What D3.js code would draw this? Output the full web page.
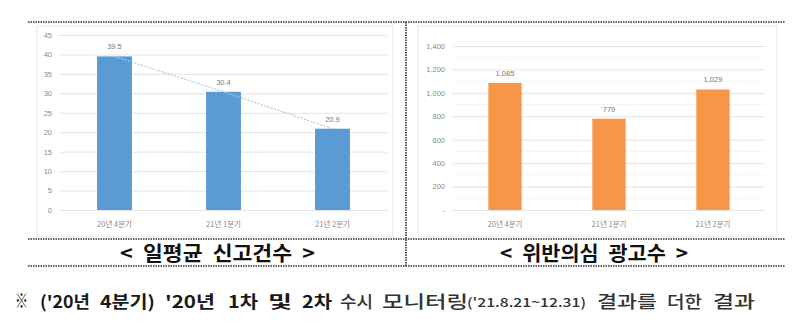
<!DOCTYPE html>
<html><head><meta charset="utf-8">
<script src="https://cdn.jsdelivr.net/npm/d3@7"></script>
<style>body{margin:0;background:#fff;}svg{display:block;}</style>
</head><body>
<svg id="c" width="800" height="324"></svg>
<script>
const categories = ["20년 4분기", "21년 1분기", "21년 2분기"];
const dailyReports = [39.5, 30.4, 20.9];
const dailyTicks = [0, 5, 10, 15, 20, 25, 30, 35, 40, 45];
const suspectAds = [1085, 779, 1029];
const adTicks = [0, 200, 400, 600, 800, 1000, 1200, 1400];
const leftTitle = "< 일평균 신고건수 >";
const rightTitle = "< 위반의심 광고수 >";
const noteWords = ["※", "('20년", "4분기)", "'20년", "1차", "및", "2차", "수시", "모니터링", "('21.8.21~12.31)", "결과를", "더한", "결과"];

const svg = d3.select("#c");
const KR = "'Noto Sans CJK KR','Noto Sans',sans-serif";

// frame dotted lines
function dl(x1,y1,x2,y2){ svg.append("line").attr("x1",x1).attr("y1",y1).attr("x2",x2).attr("y2",y2)
  .attr("stroke","#333").attr("stroke-width",1.6).attr("stroke-dasharray","1.5,1"); }
dl(28,22,785,22); dl(28,239,785,239); dl(28,266,785,266); dl(406,22,406,266);

// inner boxes
svg.append("rect").attr("x",37).attr("y",26).attr("width",356).attr("height",210).attr("fill","none").attr("stroke","#e6e6e6");
svg.append("rect").attr("x",418).attr("y",26).attr("width",359).attr("height",210).attr("fill","none").attr("stroke","#e6e6e6");

function chart(opts){
  const x = d3.scaleBand().domain(categories).range([opts.x0, opts.x1]).paddingInner(0.68).paddingOuter(0.34);
  const y = d3.scaleLinear().domain([0, opts.max]).range([210, opts.yTop]);
  const g = svg.append("g");
  if (opts.minor) {
    g.append("g").selectAll("line").data(opts.minor).join("line")
      .attr("x1",opts.x0).attr("x2",opts.x1).attr("y1",d=>y(d)).attr("y2",d=>y(d))
      .attr("stroke","#f2f2f2").attr("stroke-width",0.8);
  }
  const ax = d3.axisLeft(y).tickValues(opts.ticks).tickSize(-(opts.x1-opts.x0)).tickPadding(opts.pad).tickFormat(opts.fmt);
  const ag = g.append("g").attr("transform",`translate(${opts.x0},0)`).call(ax);
  ag.select(".domain").remove();
  ag.selectAll(".tick line").attr("stroke","#e3e3e3");
  ag.selectAll(".tick text").attr("fill","#8a8a8a").style("font-size","7.5px").style("font-family","'Liberation Sans',sans-serif");
  const bx = d3.axisBottom(x).tickSize(0).tickPadding(12);
  const bg = g.append("g").attr("transform","translate(0,210)").call(bx);
  bg.select(".domain").remove();
  bg.selectAll(".tick text").attr("fill","#8a8a8a").style("font-size","7.5px").style("font-family",KR);
  g.selectAll("rect.bar").data(opts.values).join("rect").attr("class","bar")
    .attr("x",(d,i)=>x(categories[i])).attr("width",x.bandwidth())
    .attr("y",d=>y(d)).attr("height",d=>210-y(d)).attr("fill",opts.color);
  if (opts.trend) {
    g.append("path").datum(opts.values)
      .attr("d", d3.line().x((d,i)=>x(categories[i])+x.bandwidth()/2).y(d=>y(d)))
      .attr("fill","none").attr("stroke","#a9cbe9").attr("stroke-width",1.2).attr("stroke-dasharray","2,1.5");
  }
  g.selectAll("text.lbl").data(opts.values).join("text").attr("class","lbl")
    .attr("x",(d,i)=>x(categories[i])+x.bandwidth()/2).attr("y",d=>y(d)-7)
    .attr("text-anchor","middle").attr("fill","#7a7a7a").style("font-size","7.5px")
    .style("font-family","'Liberation Sans',sans-serif").text(opts.lfmt);
  svg.append("text").attr("x",opts.tx).attr("y",261)
    .attr("textLength",opts.tw).attr("lengthAdjust","spacingAndGlyphs")
    .style("font-family",KR).style("font-weight","700").style("font-size","20px")
    .attr("fill","#111").style("word-spacing","5px").text(opts.title);
}

chart({x0:60, x1:387, max:45, yTop:35, ticks:dailyTicks, pad:8, fmt:d3.format("d"),
  values:dailyReports, color:"#5b9bd5", trend:true, lfmt:d=>d.toFixed(1), tx:120, tw:195, title:leftTitle});
chart({x0:453, x1:765, max:1400, yTop:46, ticks:adTicks, pad:8, fmt:d=>d===0?"-":d3.format(",")(d),
  minor:[100,300,500,700,900,1100,1300], values:suspectAds, color:"#f79646", lfmt:d3.format(","), tx:500, tw:188, title:rightTitle});

// footnote, word by word (layout positions / widths)
const noteX = [15, 40, 100, 165, 228, 268, 302, 340, 382, 467, 597, 667, 713];
const noteW = [13, 50, 55, 50, 30, 24, 30, 33, 86, 119, 60, 35, 42];
svg.append("g").selectAll("text").data(noteWords).join("text")
  .attr("x",(d,i)=>noteX[i]).attr("y",(d,i)=>i===9?307:308)
  .attr("textLength",(d,i)=>noteW[i]).attr("lengthAdjust","spacingAndGlyphs")
  .style("font-family",KR)
  .style("font-size",(d,i)=>i===9?"12.5px":(i===0?"19px":"17px"))
  .style("font-weight",(d,i)=>i<=6?"700":"500")
  .attr("fill",(d,i)=>i<=6?"#1a1a1a":"#333")
  .text(d=>d);
</script>
</body></html>
